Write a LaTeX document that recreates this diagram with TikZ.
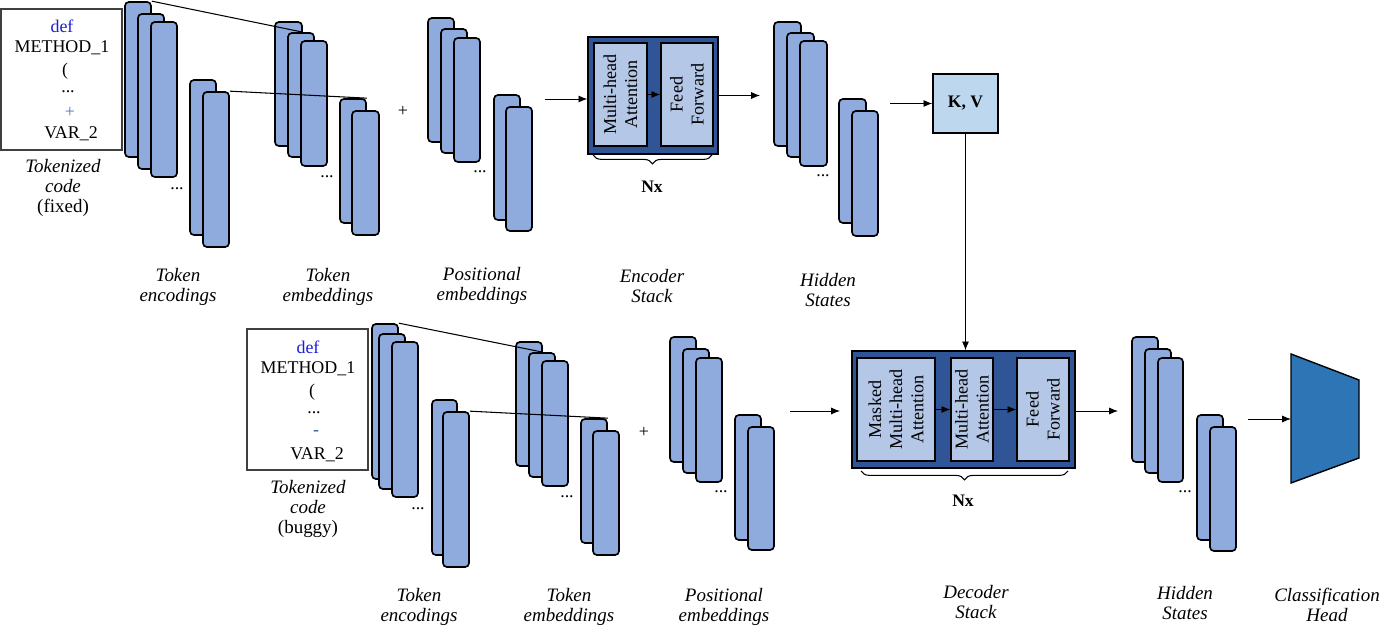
\documentclass[tikz,border=0pt]{standalone}
\usepackage{fontspec}
\setmainfont{Liberation Serif}
\usetikzlibrary{arrows.meta, fit, positioning, calc, decorations.pathreplacing}

\definecolor{barblue}{HTML}{8FAADC}
\definecolor{stackblue}{HTML}{2F5597}
\definecolor{blocklight}{HTML}{B4C7E7}
\definecolor{kvblue}{HTML}{BDD7EE}
\definecolor{headblue}{HTML}{2E75B6}
\definecolor{defblue}{HTML}{1C1CD9}
\definecolor{opblue}{HTML}{4F74C4}

\tikzset{
  vec/.style={draw=black, fill=barblue, line width=0.95pt, rounded corners=2.2pt, inner sep=0pt},
  codebox/.style={draw=black!75, line width=0.9pt, inner sep=0pt},
  stackbox/.style={draw=black, fill=stackblue, line width=0.8pt, inner sep=0pt},
  block/.style={draw=black, fill=blocklight, line width=0.8pt, inner sep=0pt},
  blocktext/.style={rotate=90, align=center, font=\fontsize{10.3}{12}\selectfont},
  lbl/.style={align=center, font=\fontsize{10.8}{11.6}\selectfont\itshape},
  codetext/.style={font=\fontsize{10.2}{12}\selectfont, inner sep=0pt},
  arr/.style={-{Latex[length=5pt,width=4pt]}, line width=0.5pt},
  nxbrace/.style={decorate, decoration={brace, mirror, amplitude=5pt}, line width=0.6pt},
}

\begin{document}
\begin{tikzpicture}[x=0.02cm, y=-0.02cm]
\useasboundingbox (0,0) rectangle (1380,628);

% tokenized code (fixed)
\node[codebox, fit={(1,9) (122,150)}] (fixbox) {};
\node[codetext, text=defblue] (fix1) at (62,26) {def};
\node[codetext] (fix2) at (62,48) {METHOD\_1};
\node[codetext] (fix3) at (65,71) {(};
\node[codetext] (fix4) at (68,92) {...};
\node[codetext, text=opblue] (fix5) at (70,112) {+};
\node[codetext] (fix6) at (71,134) {VAR\_2};
\node[lbl] (fixlbl) at (63,188) {Tokenized\\code\\\upshape(fixed)};

% token encodings (top)
\node[vec, fit={(125,2) (151,157)}] (tenc1) {};
\node[vec, fit={(138,14) (164,169)}] (tenc2) {};
\node[vec, fit={(151,22) (177,177)}] (tenc3) {};
\node[vec, fit={(190,80) (216,235)}] (tenc4) {};
\node[vec, fit={(203,92) (229,247)}] (tenc5) {};
\node[codetext] (tencdots) at (177,189) {...};

% token embeddings (top)
\node[vec, fit={(275,22) (302,146)}] (temb1) {};
\node[vec, fit={(288,33) (314,157)}] (temb2) {};
\node[vec, fit={(301,41) (327,166)}] (temb3) {};
\node[vec, fit={(340,99) (366,223)}] (temb4) {};
\node[vec, fit={(352,111) (379,235)}] (temb5) {};
\node[codetext] (tembdots) at (327,177) {...};

\draw[line width=0.6pt] (tenc1.north east) -- (temb1.east |- temb2.north);
\draw[line width=0.6pt] (tenc5.north east) -- (temb4.north east);

\node[codetext] (tplus) at (403,111) {+};

% positional embeddings (top)
\node[vec, fit={(428,18) (454,142)}] (tpos1) {};
\node[vec, fit={(441,29) (467,153)}] (tpos2) {};
\node[vec, fit={(454,38) (480,162)}] (tpos3) {};
\node[vec, fit={(494,95) (520,220)}] (tpos4) {};
\node[vec, fit={(506,107) (532,231)}] (tpos5) {};
\node[codetext] (tposdots) at (480,172) {...};

% encoder stack
\node[stackbox, fit={(588,37) (718,154)}] (enc) {};
\node[block, fit={(594,43) (647,146)}] (emha) {};
\node[block, fit={(661,43) (713,146)}] (eff) {};
\node[blocktext] at (emha.center) {Multi-head\\Attention};
\node[blocktext] at (eff.center) {Feed\\Forward};
\draw[arr] (emha.east) -- (eff.west);
\coordinate (tposout) at (545,99);
\draw[arr] (tposout) -- (tposout -| enc.west);
\draw[nxbrace] (593,155) -- (712,155);
\node[font=\bfseries] (encnx) at (652,187) {Nx};

% hidden states (top)
\node[vec, fit={(774,22) (801,146)}] (thid1) {};
\node[vec, fit={(787,33) (814,157)}] (thid2) {};
\node[vec, fit={(800,41) (827,166)}] (thid3) {};
\node[vec, fit={(839,99) (866,223)}] (thid4) {};
\node[vec, fit={(852,111) (878,236)}] (thid5) {};
\node[codetext] (thiddots) at (823,176) {...};
\coordinate (thidin) at (760,95.5);
\draw[arr] (enc.east) -- (thidin);

% keys and values
\node[draw=black, fill=kvblue, line width=0.8pt, inner sep=0pt, fit={(933,74) (998,133)}] (kv) {};
\node[font=\bfseries] at (kv.center) {K, V};
\coordinate (thidout) at (890,103.5);
\draw[arr] (thidout) -- (kv.west);

% tokenized code (buggy)
\node[codebox, fit={(247,329) (368,470)}] (bugbox) {};
\node[codetext, text=defblue] (bug1) at (308,347) {def};
\node[codetext] (bug2) at (308,369) {METHOD\_1};
\node[codetext] (bug3) at (312,392) {(};
\node[codetext] (bug4) at (314,413) {...};
\node[codetext, text=stackblue] (bug5) at (316,433) {-};
\node[codetext] (bug6) at (317,455) {VAR\_2};
\node[lbl] (buglbl) at (308,509) {Tokenized\\code\\\upshape(buggy)};

% token encodings (bottom)
\node[vec, fit={(372,324) (398,479)}] (benc1) {};
\node[vec, fit={(379,334) (405,489)}] (benc2) {};
\node[vec, fit={(392,342) (418,497)}] (benc3) {};
\node[vec, fit={(432,400) (457,555)}] (benc4) {};
\node[vec, fit={(443,412) (469,567)}] (benc5) {};
\node[codetext] (bencdots) at (418,509) {...};

% token embeddings (bottom)
\node[vec, fit={(516,342) (542,466)}] (bemb1) {};
\node[vec, fit={(529,353) (555,477)}] (bemb2) {};
\node[vec, fit={(542,361) (568,486)}] (bemb3) {};
\node[vec, fit={(581,419) (607,543)}] (bemb4) {};
\node[vec, fit={(593,431) (619,555)}] (bemb5) {};
\node[codetext] (bembdots) at (567,497) {...};

\draw[line width=0.6pt] (benc1.north east) -- (bemb1.east |- bemb2.north);
\draw[line width=0.6pt] (benc5.north east) -- (bemb4.north east);

\node[codetext] (bplus) at (644,432) {+};

% positional embeddings (bottom)
\node[vec, fit={(670,337) (696,462)}] (bpos1) {};
\node[vec, fit={(683,349) (709,473)}] (bpos2) {};
\node[vec, fit={(696,358) (722,482)}] (bpos3) {};
\node[vec, fit={(735,415) (761,540)}] (bpos4) {};
\node[vec, fit={(748,427) (774,550)}] (bpos5) {};
\node[codetext] (bposdots) at (721,492) {...};

% decoder stack
\node[stackbox, fit={(852,351) (1075,468)}] (dec) {};
\node[block, fit={(857,358) (935,461)}] (dmmha) {};
\node[block, fit={(951,358) (993,461)}] (dmha) {};
\node[block, fit={(1017,358) (1069,461)}] (dff) {};
\node[blocktext] at (dmmha.center) {Masked\\Multi-head\\Attention};
\node[blocktext] at (dmha.center) {Multi-head\\Attention};
\node[blocktext] at (dff.center) {Feed\\Forward};
\draw[arr] (dmmha.east) -- (dmha.west);
\draw[arr] (dmha.east) -- (dff.west);
\draw[arr] (kv.south) -- (kv.south |- dec.north);
\coordinate (bposout) at (790,411);
\coordinate (decin) at (840,411);
\draw[arr] (bposout) -- (decin);
\draw[nxbrace] (861,471) -- (1068,471);
\node[font=\bfseries] (decnx) at (963,501) {Nx};

% hidden states (bottom)
\node[vec, fit={(1132,337) (1158,462)}] (bhid1) {};
\node[vec, fit={(1145,349) (1171,473)}] (bhid2) {};
\node[vec, fit={(1158,358) (1183,482)}] (bhid3) {};
\node[vec, fit={(1197,415) (1223,540)}] (bhid4) {};
\node[vec, fit={(1210,427) (1236,551)}] (bhid5) {};
\node[codetext] (bhiddots) at (1185,492) {...};
\coordinate (bhidin) at (1118,411);
\draw[arr] (dec.east |- bhidin) -- (bhidin);

% classification head
\filldraw[fill=headblue, draw=black, line width=0.8pt] (1291,354) -- (1359,380) -- (1359,458) -- (1291,483) -- cycle;
\coordinate (headin) at (1291,419);
\coordinate (bhidout) at (1248,419);
\draw[arr] (bhidout) -- (headin);

% labels
\node[lbl] (tenclbl) at (178,287) {Token\\encodings};
\node[lbl] (temblbl) at (328,287) {Token\\embeddings};
\node[lbl] (tposlbl) at (482,286) {Positional\\embeddings};
\node[lbl] (enclbl) at (652,286) {Encoder\\Stack};
\node[lbl] (thidlbl) at (828,290) {Hidden\\States};
\node[lbl] (benclbl) at (419,607) {Token\\encodings};
\node[lbl] (bemblbl) at (569,607) {Token\\embeddings};
\node[lbl] (bposlbl) at (724,607) {Positional\\embeddings};
\node[lbl] (declbl) at (976,602) {Decoder\\Stack};
\node[lbl] (bhidlbl) at (1185,603) {Hidden\\States};
\node[lbl] (headlbl) at (1327,605) {Classification\\Head};
\end{tikzpicture}
\end{document}
